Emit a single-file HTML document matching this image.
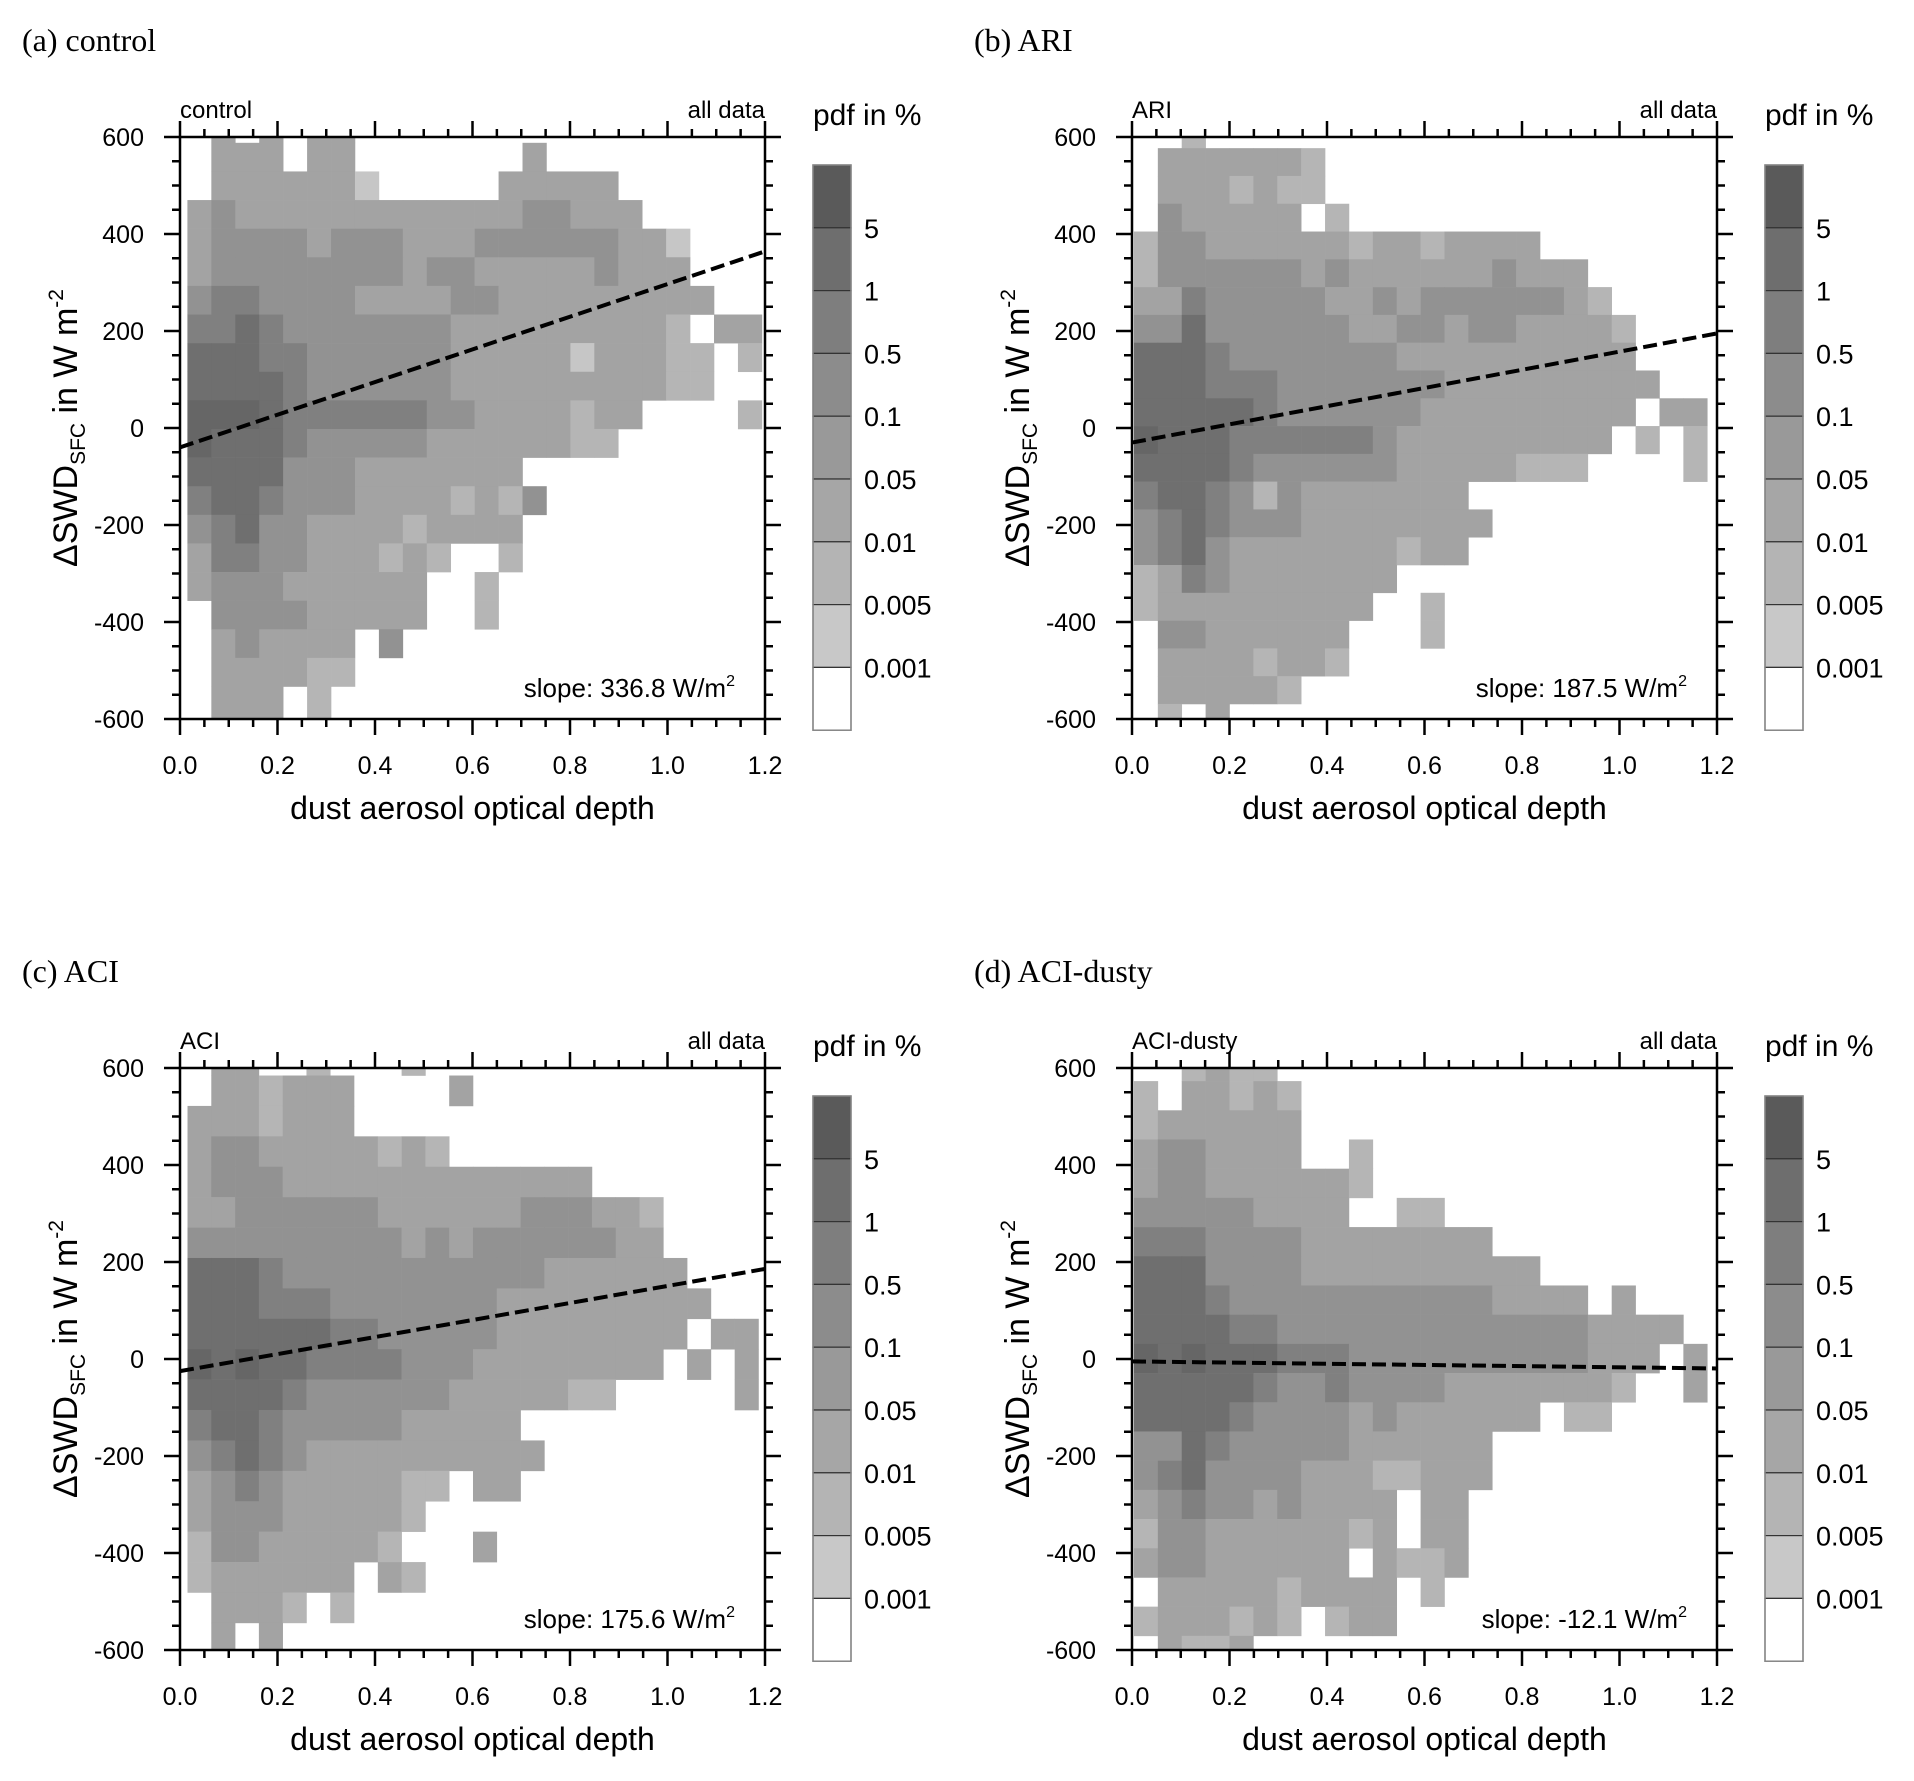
<!DOCTYPE html>
<html><head><meta charset="utf-8"><title>dust AOD vs ΔSWD</title>
<style>
html,body{margin:0;padding:0;background:#fff;}
svg{display:block;}
text{font-family:"Liberation Sans",sans-serif;fill:#000;}
.ttl{font-family:"Liberation Serif",serif;}
</style></head>
<body>
<svg id="fig" xmlns="http://www.w3.org/2000/svg" width="1914" height="1781" viewBox="0 0 1914 1781"></svg>
<script>
// ---------- data ----------
const panelTitles = ["(a) control","(b) ARI","(c) ACI","(d) ACI-dusty"];
const panelTags = ["control","ARI","ACI","ACI-dusty"];
const slopes = [336.8, 187.5, 175.6, -12.1];
const intercepts = [-40, -30, -25, -5];
const xBinStart = [0.0152, 0.004, 0.0154, 0.004];
const xBinWidth = [0.0491, 0.0490, 0.0488, 0.0490];
const yBinTop = [588, 577, 584.5, 573];
const yBinHeight = [59, 57.3, 62.7, 60.2];
const xTicks = [0.0, 0.2, 0.4, 0.6, 0.8, 1.0, 1.2];
const yTicks = [-600, -400, -200, 0, 200, 400, 600];
const cbLabels = ["5","1","0.5","0.1","0.05","0.01","0.005","0.001"];
const levelColors = ["#ffffff","#c6c6c6","#b5b5b5","#a3a3a3","#929292","#808080","#6f6f6f","#666666","#5a5a5a"];
const cbColors = ["#5a5a5a","#6e6e6e","#7e7e7e","#8c8c8c","#999999","#a6a6a6","#b4b4b4","#c8c8c8","#ffffff"];

const gridA = [
"030303300000000000000000",
"033303300000003000000000",
"033333310000033333000000",
"343333333333334433300000",
"344443444333444444331000",
"344444444344333334333000",
"455444433334433333333300",
"556544444443333333332033",
"666554444443333313332202",
"666654444443333333332200",
"777655555544333323300002",
"766654444433333322000000",
"666644433333330000000000",
"566544433332324000000000",
"456443333233330000000000",
"355443332320020000000000",
"344433333300200000000000",
"044443333300200000000000",
"034333304000000000000000",
"033332200000000000000000",
"033302000000000000000000",
"033302000000000000000000"];
const gridB = [
"002000000000000000000000",
"033333320000000000000000",
"033323220000000000000000",
"043333302000000000000000",
"244333333233233330000000",
"244444434333333433300000",
"335444443343444444320000",
"446444444334434433332000",
"666544444443333333333000",
"666555444444433333333300",
"666665444444333333333033",
"766655555543333333330202",
"666654444443333322200002",
"566542433333330000000000",
"456544433333333000000000",
"456433333332330000000000",
"235433333330000000000000",
"233333333300200000000000",
"044333333000200000000000",
"033332332000000000000000",
"033333200000000000000000",
"020300000000000000000000"];
const gridC = [
"033002000200000000000000",
"033233300003000000000000",
"333233300000000000000000",
"344333332320000000000000",
"344433333333333330000000",
"334444443333334443320000",
"444444444343444444330000",
"666544444444444333333000",
"666555444444433333333300",
"666666554444433333333033",
"767665555444333333330303",
"666654444443333322000003",
"566544444333330000000000",
"456543333333333000000000",
"345433333220330000000000",
"344433333200000000000000",
"244333332000300000000000",
"233333303200000000000000",
"033320200000000000000000",
"030300000000000000000000"];
const gridD = [
"002322000000000000000000",
"203323200000000000000000",
"233333300000000000000000",
"344333300200000000000000",
"344333333200000000000000",
"444443333002200000000000",
"555444433333333000000000",
"666444433333333330000000",
"666544444444444333303000",
"666655444444444444433330",
"767666555444444444433303",
"666665445444433333332003",
"666654444343333330220000",
"446544444333333000000000",
"456444433322333000000000",
"345443433330330000000000",
"244333333230330000000000",
"344333333032230000000000",
"033333233330200000000000",
"233323202330000000000000",
"032230000000000000000000"];
const grids = [gridA, gridB, gridC, gridD];

// ---------- layout ----------
const NS = "http://www.w3.org/2000/svg";
const svg = document.getElementById("fig");
const plotLeft = [180, 1132, 180, 1132];
const plotTop = [137, 137, 1068, 1068];
const titleX = [22, 974, 22, 974];
const PW = 585, PH = 582;
const XMIN = 0, XMAX = 1.2, YMIN = -600, YMAX = 600;

function mk(tag, attrs, parent) {
  const e = document.createElementNS(NS, tag);
  for (const k in attrs) e.setAttribute(k, attrs[k]);
  (parent || svg).appendChild(e);
  return e;
}

for (let p = 0; p < 4; p++) {
  const L = plotLeft[p], T = plotTop[p];
  const xs = v => L + (v - XMIN) / (XMAX - XMIN) * PW;
  const ys = v => T + (YMAX - v) / (YMAX - YMIN) * PH;

  const g = mk("g", {});
  
  

  const tt = mk("text", {x: titleX[p], y: T - 86, "font-size": 32, "class": "ttl"}, g);
  tt.textContent = panelTitles[p];
  
  

  const hm = mk("g", {}, g);
  
  
  const grid = grids[p];
  for (let r = 0; r < grid.length; r++) {
    const yTopV = r === 0 ? YMAX : yBinTop[p] - (r - 1) * yBinHeight[p];
    const yBotV = Math.max(YMIN, yBinTop[p] - r * yBinHeight[p]);
    for (let c = 0; c < grid[r].length; c++) {
      const lv = +grid[r][c];
      if (!lv) continue;
      const x0v = xBinStart[p] + c * xBinWidth[p];
      const x1v = Math.min(XMAX, x0v + xBinWidth[p]);
      const rc = mk("rect", {x: xs(x0v), y: ys(yTopV), width: xs(x1v) - xs(x0v) + 0.3, height: ys(yBotV) - ys(yTopV) + 0.3, fill: levelColors[lv]}, hm);
      
      
    }
  }

  const rl = mk("line", {x1: xs(XMIN), y1: ys(intercepts[p]), x2: xs(XMAX), y2: ys(intercepts[p] + slopes[p] * XMAX), stroke: "#000", "stroke-width": 4, "stroke-dasharray": "14 6"}, g);
  
  

  const fr = mk("rect", {x: L, y: T, width: PW, height: PH, fill: "none", stroke: "#000", "stroke-width": 2.5}, g);
  
  

  const tk = mk("g", {stroke: "#000", "stroke-width": 2.5}, g);
  
  
  for (let i = 0; i <= 24; i++) {
    const v = i * 0.05, len = (i % 4 === 0) ? 16 : 8, X = xs(v);
    mk("line", {x1: X, y1: T + PH, x2: X, y2: T + PH + len}, tk);
    mk("line", {x1: X, y1: T, x2: X, y2: T - len}, tk);
  }
  for (let i = 0; i <= 24; i++) {
    const v = -600 + i * 50, len = (i % 4 === 0) ? 16 : 8, Y = ys(v);
    mk("line", {x1: L, y1: Y, x2: L - len, y2: Y}, tk);
    mk("line", {x1: L + PW, y1: Y, x2: L + PW + len, y2: Y}, tk);
  }
  xTicks.forEach(v => {
    const t = mk("text", {x: xs(v), y: T + PH + 55, "font-size": 25, "text-anchor": "middle"}, g);
    t.textContent = v.toFixed(1);
    
    
  });
  yTicks.forEach(v => {
    const t = mk("text", {x: L - 36, y: ys(v) + 9, "font-size": 25, "text-anchor": "end"}, g);
    t.textContent = String(v);
    
    
  });

  const xt = mk("text", {x: L + PW / 2, y: T + PH + 100, "font-size": 32, "text-anchor": "middle"}, g);
  xt.textContent = "dust aerosol optical depth";
  
  

  const yt = mk("text", {transform: "translate(" + (L - 103) + "," + (T + PH / 2) + ") rotate(-90)", "font-size": 34, "text-anchor": "middle"}, g);
  
  
  const s1 = mk("tspan", {}, yt); s1.textContent = "ΔSWD";
  const s2 = mk("tspan", {"font-size": 21, dy: 8}, yt); s2.textContent = "SFC";
  const s3 = mk("tspan", {dy: -8}, yt); s3.textContent = "  in  W m";
  const s4 = mk("tspan", {"font-size": 21, dy: -14}, yt); s4.textContent = "-2";

  const cl = mk("text", {x: L, y: T - 19, "font-size": 24}, g);
  cl.textContent = panelTags[p];
  
  
  const cr = mk("text", {x: L + PW, y: T - 19, "font-size": 24, "text-anchor": "end"}, g);
  cr.textContent = "all data";
  
  

  const sl = mk("text", {x: L + PW - 30, y: T + PH - 22, "font-size": 26, "text-anchor": "end"}, g);
  
  
  const a1 = mk("tspan", {}, sl); a1.textContent = "slope: " + slopes[p].toFixed(1) + " W/m";
  const a2 = mk("tspan", {"font-size": 16, dy: -11}, sl); a2.textContent = "2";

  const cbx = L + 633, cby = T + 28, cbw = 38, segH = 62.8;
  const cb = mk("g", {}, g);
  
  
  const cbt = mk("text", {x: cbx, y: T - 12, "font-size": 30}, cb);
  cbt.textContent = "pdf in %";
  
  
  cbColors.forEach((col, i) => {
    const r = mk("rect", {x: cbx, y: cby + i * segH, width: cbw, height: segH, fill: col, stroke: "#333", "stroke-width": 1.2}, cb);
    
    
  });
  mk("rect", {x: cbx, y: cby, width: cbw, height: segH * cbColors.length, fill: "none", stroke: "#888", "stroke-width": 1.5}, cb);
  cbLabels.forEach((lab, i) => {
    const t = mk("text", {x: cbx + cbw + 13, y: cby + (i + 1) * segH + 10, "font-size": 27}, cb);
    t.textContent = lab;
    
    
  });
}
</script>
</body></html>
